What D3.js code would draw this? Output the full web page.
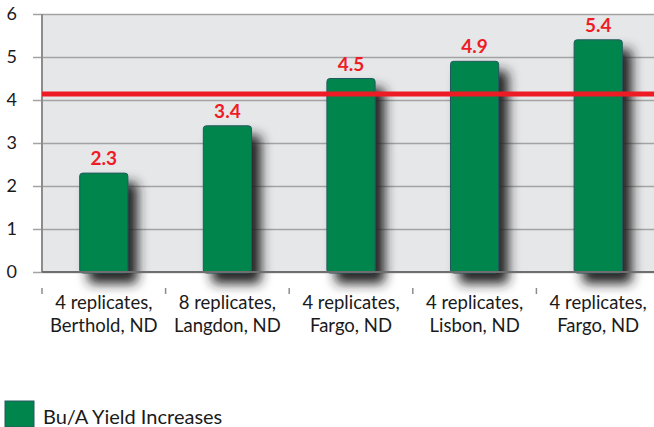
<!DOCTYPE html>
<html>
<head>
<meta charset="utf-8">
<script src="https://cdn.jsdelivr.net/npm/d3@7"></script>
<style>
  body { margin: 0; background: #fff; }
  svg { display: block; font-family: Lato, "Open Sans", sans-serif; }
</style>
</head>
<body>
<script>
// data
var sites = ["4 replicates,|Berthold, ND", "8 replicates,|Langdon, ND",
    "4 replicates,|Fargo, ND", "4 replicates,|Lisbon, ND",
    "4 replicates,|Fargo, ND"];
var yieldGain = [2.3, 3.4, 4.5, 4.9, 5.4];
var yTicks = [0, 1, 2, 3, 4, 5, 6];
var refLevel = [4.14];
var legendLabel = ["Bu/A Yield Increases"];

var W = 654, H = 427;
var margin = {top: 14, right: -6, bottom: 155, left: 42},
    width = W - margin.left - margin.right,
    height = H - margin.top - margin.bottom;

var svg = d3.select("body").append("svg")
    .attr("width", W)
    .attr("height", H);

var defs = svg.append("defs");
var f = defs.append("filter").attr("id", "shadow")
    .attr("x", "-40%").attr("y", "-30%")
    .attr("width", "220%").attr("height", "180%");
f.append("feDropShadow")
    .attr("dx", 9).attr("dy", 10)
    .attr("stdDeviation", 6)
    .attr("flood-color", "#222")
    .attr("flood-opacity", 1);

var g = svg.append("g")
    .attr("transform", "translate(" + margin.left + "," + margin.top + ")");

var x = d3.scaleBand().domain(d3.range(sites.length))
    .range([0, width]).paddingInner(0.61).paddingOuter(0.305);
var xCat = d3.scaleBand().domain(d3.range(sites.length)).range([0, width]);
var y = d3.scaleLinear().domain([0, 6]).range([height, 0]);

// plot background
g.append("rect")
    .attr("width", width)
    .attr("height", height)
    .attr("fill", "#e6e7e9");

// gridlines + y ticks
g.append("g")
    .call(d3.axisLeft(y).tickValues(yTicks).tickSize(-width)
        .tickPadding(25).tickFormat(d3.format("d")))
    .call(function(a) {
        a.select(".domain").remove();
        a.selectAll(".tick line")
            .attr("stroke", "#a3a3a3")
            .attr("stroke-width", 1.5)
            .attr("x1", -9);
        a.selectAll(".tick text")
            .attr("fill", "#1a1a1a")
            .style("font-size", "18px")
            .style("font-family", "Lato, sans-serif");
    });

// y axis line
g.append("line")
    .attr("x1", 0).attr("x2", 0)
    .attr("y1", 0).attr("y2", height)
    .attr("stroke", "#8c8c8c")
    .attr("stroke-width", 2);

// bars
g.selectAll(".bar")
    .data(yieldGain)
    .enter().append("rect")
    .attr("class", "bar")
    .attr("x", function(d, i) { return x(i); })
    .attr("y", function(d) { return y(d); })
    .attr("width", x.bandwidth())
    .attr("height", function(d) { return y(0) - y(d) + 1; })
    .attr("rx", 3)
    .attr("fill", "#00854d")
    .attr("stroke", "#24595e")
    .attr("stroke-width", 1)
    .attr("filter", "url(#shadow)");

// x axis line
g.append("line")
    .attr("x1", 0).attr("x2", width)
    .attr("y1", height).attr("y2", height)
    .attr("stroke", "#6e6e6e")
    .attr("stroke-width", 2);

// value labels
g.selectAll(".val")
    .data(yieldGain)
    .enter().append("text")
    .attr("class", "val")
    .attr("x", function(d, i) { return x(i) + x.bandwidth() / 2; })
    .attr("y", function(d) { return y(d) - 8; })
    .attr("text-anchor", "middle")
    .attr("fill", "#ee1c25")
    .style("font-size", "19px")
    .style("font-weight", "bold")
    .text(function(d) { return d.toFixed(1); });

// red reference line
g.selectAll(".ref")
    .data(refLevel)
    .enter().append("line")
    .attr("x1", 0).attr("x2", width)
    .attr("y1", function(d) { return y(d); })
    .attr("y2", function(d) { return y(d); })
    .attr("stroke", "#ed1c24")
    .attr("stroke-width", 5);

// category ticks (sit below the axis)
g.selectAll(".ctick")
    .data(d3.range(sites.length))
    .enter().append("line")
    .attr("x1", function(i) { return xCat(i); })
    .attr("x2", function(i) { return xCat(i); })
    .attr("y1", height + 16).attr("y2", height + 22)
    .attr("stroke", "#8c8c8c")
    .attr("stroke-width", 1.5);

// category labels
var lab = g.selectAll(".cat")
    .data(sites)
    .enter().append("text")
    .attr("class", "cat")
    .attr("text-anchor", "middle")
    .attr("fill", "#1a1a1a")
    .style("font-size", "18.5px")
    .attr("transform", function(d, i) {
        return "translate(" + (xCat(i) + xCat.bandwidth() / 2) + "," +
            (height + 37) + ")";
    });
lab.selectAll("tspan")
    .data(function(d) { return d.split("|"); })
    .enter().append("tspan")
    .attr("x", 0)
    .attr("dy", function(d, j) { return j === 0 ? 0 : 23; })
    .text(function(d) { return d; });

// legend
var leg = svg.append("g").attr("transform", "translate(5,401)");
leg.append("rect")
    .attr("width", 29).attr("height", 26)
    .attr("fill", "#00854d")
    .attr("stroke", "#24595e")
    .attr("stroke-width", 1);
leg.append("text")
    .attr("x", 38).attr("y", 23)
    .attr("fill", "#1a1a1a")
    .style("font-size", "20px")
    .text(legendLabel[0]);
</script>
</body>
</html>
